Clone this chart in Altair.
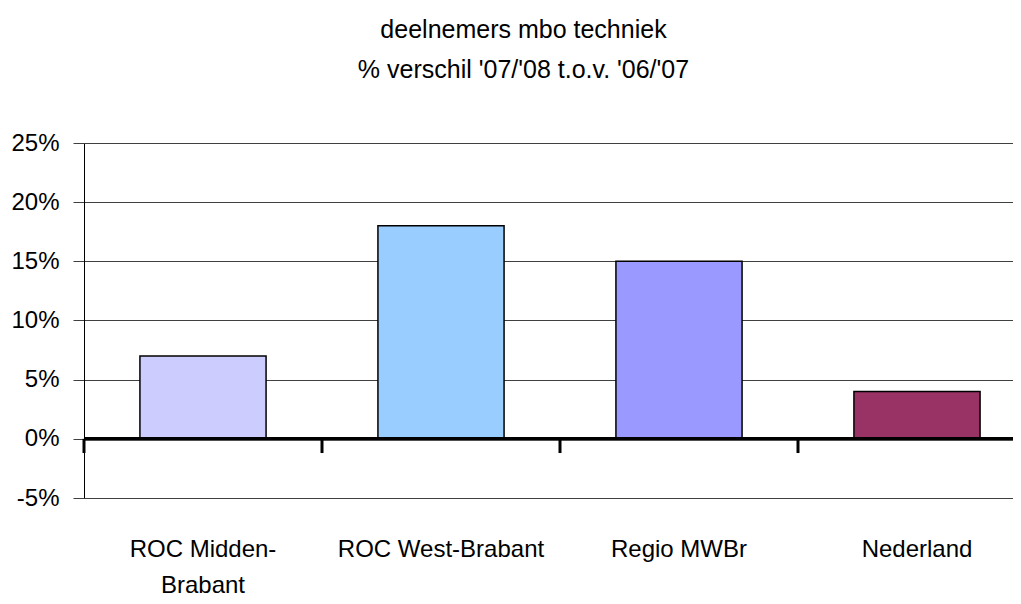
import altair as alt
import pandas as pd

categories = ["ROC Midden-Brabant", "ROC West-Brabant", "Regio MWBr", "Nederland"]
values = [0.07, 0.18, 0.15, 0.04]
colors = ["#CCCCFF", "#99CCFF", "#9999FF", "#993366"]
title_lines = ["deelnemers mbo techniek", "% verschil '07/'08 t.o.v. '06/'07"]

df = pd.DataFrame({"cat": categories, "val": values, "color": colors})

FONT = "Liberation Sans"
W, H = 929, 355

xscale = alt.Scale(domain=categories, range=[0, 952], paddingInner=0, paddingOuter=0)
yscale = alt.Scale(domain=[-0.05, 0.25], nice=False, zero=False)

base = alt.Chart(df)

bars = base.mark_bar(width=alt.RelativeBandSize(0.53), stroke="black", strokeWidth=1.5).encode(
    x=alt.X("cat:N", scale=xscale, sort=categories,
            axis=alt.Axis(title=None, orient="bottom", domain=False, ticks=False, tickSize=0,
                          labelAngle=0, labelFont=FONT, labelFontSize=24, labelColor="black",
                          labelBaseline="alphabetic", labelPadding=58, labelLineHeight=36,
                          labelLimit=0,
                          labelExpr="datum.label == 'ROC Midden-Brabant' ? ['ROC Midden-', 'Brabant'] : datum.label")),
    y=alt.Y("val:Q", scale=yscale,
            axis=alt.Axis(title=None, values=[-0.05, 0, 0.05, 0.1, 0.15, 0.2, 0.25], format=".0%",
                          labelExpr="replace(datum.label, '\u2212', '-')",
                          grid=True, gridColor="#404040", gridWidth=1,
                          domain=True, domainColor="black", domainWidth=1,
                          ticks=True, tickSize=11, tickColor="#404040",
                          labelFont=FONT, labelFontSize=24, labelColor="black", labelPadding=14)),
    y2=alt.datum(0),
    color=alt.Color("color:N", scale=None),
)

zero_line = alt.Chart(df).mark_rule(color="black", strokeWidth=3).encode(
    y=alt.datum(0, scale=yscale), x=alt.value(0), x2=alt.value(W)
)

ticks = base.mark_rule(color="black", strokeWidth=3).encode(
    x=alt.X("cat:N", scale=xscale, bandPosition=0, sort=categories),
    y=alt.datum(0, scale=yscale),
    y2=alt.datum(-0.012),
)

title = alt.Chart(pd.DataFrame({"t": [0]})).mark_text(
    font=FONT, fontSize=25, color="black", align="center", baseline="alphabetic", lineHeight=40
).encode(
    x=alt.value(W / 2 - 25), y=alt.value(-105), text=alt.value(title_lines)
)

chart = alt.layer(bars, zero_line, ticks, title).properties(
    width=W, height=H,
    autosize=alt.AutoSizeParams(type="none"),
    padding={"left": 76, "top": 135, "right": 0, "bottom": 98},
).configure_view(stroke=None)

chart.save("out.html", embed_options={"renderer": "svg", "actions": False})
